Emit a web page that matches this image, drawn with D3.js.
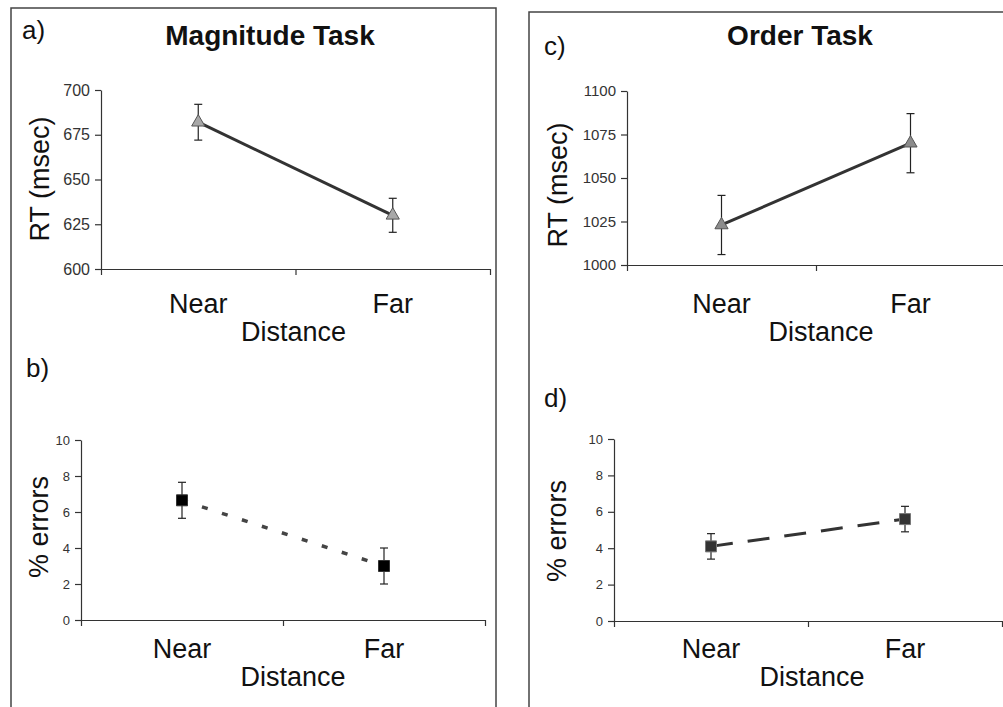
<!DOCTYPE html>
<html>
<head>
<meta charset="utf-8">
<script src="https://cdn.jsdelivr.net/npm/d3@7"></script>
<style>
  body{margin:0;background:#fff;}
  svg{display:block;font-family:"Liberation Sans",Arial,sans-serif;}
  .tick text{font-family:"Liberation Sans Narrow","Liberation Sans",Arial,sans-serif;fill:#333;}
</style>
</head>
<body>
<svg width="1003" height="707"></svg>
<script>
// categories and values
var categories = ["Near","Far"];

var magRT    = [682, 630];
var magRTse  = [10, 9.5];
var magErr   = [6.65, 3.0];
var magErrSe = [1.0, 1.0];

var ordRT    = [1023, 1070];
var ordRTse  = [17, 17];
var ordErr   = [4.1, 5.6];
var ordErrSe = [0.7, 0.7];

var magRTTicks = [600, 625, 650, 675, 700];
var ordRTTicks = [1000, 1025, 1050, 1075, 1100];
var errTicks   = [0, 2, 4, 6, 8, 10];

var svg = d3.select("svg");

// panel frames
svg.append("rect").attr("x",11).attr("y",8).attr("width",485).attr("height",720)
   .attr("fill","none").attr("stroke","#444").attr("stroke-width",1.5);
svg.append("rect").attr("x",529).attr("y",12).attr("width",500).attr("height",720)
   .attr("fill","none").attr("stroke","#444").attr("stroke-width",1.5);

function panel(p){
  var g = svg.append("g");
  var y = d3.scaleLinear().domain([p.ticks[0], p.ticks[p.ticks.length-1]]).range([p.bottom, p.top]);
  var x = d3.scaleBand().domain(categories).range([p.left, p.right]);
  var xb = d3.scaleLinear().domain([0,2]).range([p.left, p.right]);

  var ya = g.append("g").attr("transform","translate("+p.left+",0)")
    .call(d3.axisLeft(y).tickValues(p.ticks).tickFormat(d3.format("d")).tickSize(6).tickPadding(5).tickSizeOuter(0));
  ya.selectAll("text").style("font-size",p.tickFont+"px");
  g.append("g").attr("transform","translate(0,"+p.bottom+")")
    .call(d3.axisBottom(xb).tickValues([0,1,2]).tickFormat("").tickSize(6).tickSizeOuter(0));
  g.selectAll(".domain, .tick line").attr("stroke","#333").attr("stroke-width",1.2);

  // category labels
  g.selectAll("text.cat").data(categories).enter().append("text")
    .attr("class","cat")
    .attr("x",function(d){return x(d)+x.bandwidth()/2;})
    .attr("y",p.bottom+p.catDy)
    .attr("text-anchor","middle").style("font-size","27px").attr("fill","#111")
    .text(function(d){return d;});
  g.append("text").attr("x",(p.left+p.right)/2+p.distDx).attr("y",p.bottom+p.catDy+28)
    .attr("text-anchor","middle").style("font-size","27px").attr("fill","#111").text("Distance");

  g.append("text").attr("transform","translate("+p.ylx+","+p.yly+") rotate(-90)")
    .attr("text-anchor","middle").style("font-size","27px").attr("fill","#111").text(p.ylabel);

  g.append("text").attr("x",p.lx).attr("y",p.ly).style("font-size","26px").attr("fill","#111").text(p.letter);
  if(p.title){
    g.append("text").attr("x",p.tx).attr("y",45).attr("text-anchor","middle")
      .style("font-size","28px").style("font-weight","bold").attr("fill","#111").text(p.title);
  }

  var pts = categories.map(function(c,i){
    return {x:x(c)+x.bandwidth()/2, y:y(p.values[i]), hi:y(p.values[i]+p.se[i]), lo:y(p.values[i]-p.se[i])};
  });

  g.append("path").attr("d",d3.line().x(function(d){return d.x;}).y(function(d){return d.y;})(pts))
    .attr("fill","none").attr("stroke",p.lineColor).attr("stroke-width",p.lineW)
    .attr("stroke-dasharray",p.dash);

  var eb = g.selectAll("g.eb").data(pts).enter().append("g").attr("class","eb")
    .attr("stroke","#222").attr("stroke-width",1.2);
  eb.append("line").attr("x1",function(d){return d.x;}).attr("x2",function(d){return d.x;})
    .attr("y1",function(d){return d.hi;}).attr("y2",function(d){return d.lo;});
  eb.append("line").attr("x1",function(d){return d.x-4;}).attr("x2",function(d){return d.x+4;})
    .attr("y1",function(d){return d.hi;}).attr("y2",function(d){return d.hi;});
  eb.append("line").attr("x1",function(d){return d.x-4;}).attr("x2",function(d){return d.x+4;})
    .attr("y1",function(d){return d.lo;}).attr("y2",function(d){return d.lo;});

  g.selectAll("path.mk").data(pts).enter().append("path").attr("class","mk")
    .attr("transform",function(d){return "translate("+d.x+","+d.y+")";})
    .attr("d",d3.symbol().type(p.symbol).size(p.symSize))
    .attr("fill",p.fill).attr("stroke",p.stroke).attr("stroke-width",1);
}

panel({letter:"a)",lx:22,ly:39,title:"Magnitude Task",tx:270,
  left:101,right:490,top:90,bottom:269,ticks:magRTTicks,tickFont:16,
  values:magRT,se:magRTse,catDy:44,distDx:-2,ylabel:"RT (msec)",ylx:49,yly:179,
  lineColor:"#333",lineW:3,dash:null,symbol:d3.symbolTriangle,symSize:75,fill:"#a8a8a8",stroke:"#555"});

panel({letter:"b)",lx:26,ly:377,
  left:81,right:485,top:440,bottom:620,ticks:errTicks,tickFont:13,
  values:magErr,se:magErrSe,catDy:38,distDx:10,ylabel:"% errors",ylx:48,yly:527,
  lineColor:"#444",lineW:3.5,dash:"6,15",symbol:d3.symbolSquare,symSize:121,fill:"#000",stroke:"#333"});

panel({letter:"c)",lx:544,ly:55,title:"Order Task",tx:800,
  left:627,right:1005,top:91,bottom:265,ticks:ordRTTicks,tickFont:15,
  values:ordRT,se:ordRTse,catDy:48,distDx:5,ylabel:"RT (msec)",ylx:567,yly:185,
  lineColor:"#333",lineW:3,dash:null,symbol:d3.symbolTriangle,symSize:75,fill:"#8c8c8c",stroke:"#555"});

panel({letter:"d)",lx:544,ly:407,
  left:614,right:1002,top:439,bottom:621,ticks:errTicks,tickFont:13,
  values:ordErr,se:ordErrSe,catDy:37,distDx:4,ylabel:"% errors",ylx:566,yly:531,
  lineColor:"#333",lineW:3,dash:"22,15",symbol:d3.symbolSquare,symSize:121,fill:"#333",stroke:"#777"});
</script>
</body>
</html>
